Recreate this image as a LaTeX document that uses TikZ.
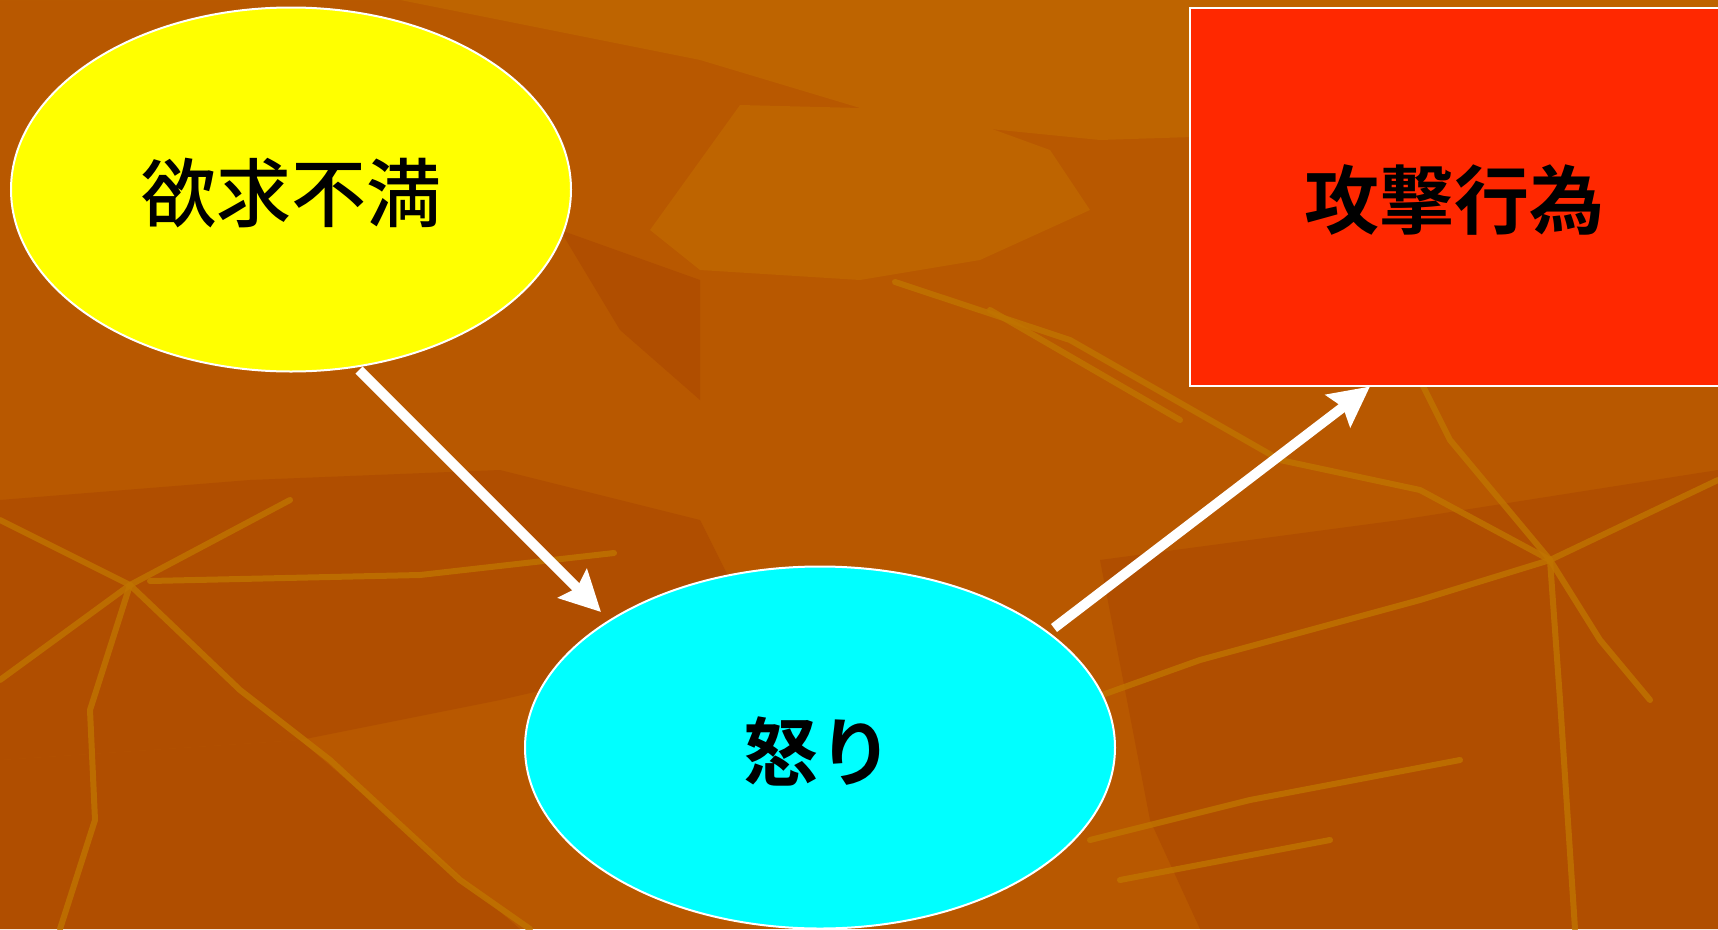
\documentclass[tikz,border=0pt]{standalone}
\usepackage{fontspec}
\newfontfamily\cjkm{Noto Sans CJK JP Medium}
\newfontfamily\cjkb{Noto Sans CJK JP Bold}
\usetikzlibrary{shapes.geometric,arrows.meta}
\definecolor{bgbase}{RGB}{184,88,0}
\definecolor{bglight}{RGB}{190,100,0}
\definecolor{bgdark}{RGB}{176,78,0}
\definecolor{gold}{RGB}{192,116,0}
\definecolor{ylw}{RGB}{255,255,0}
\definecolor{cyn}{RGB}{0,255,255}
\definecolor{rd}{RGB}{255,40,0}
\tikzset{
  oval/.style={ellipse, draw=white, line width=2pt, inner sep=0pt},
  box/.style={rectangle, draw=white, line width=2pt, inner sep=0pt},
  lbl/.style={font=\cjkm\fontsize{75}{85}\selectfont, text=black},
  lblb/.style={font=\cjkb\fontsize{75}{85}\selectfont, text=black},
  arr/.style={draw=white, line width=10pt, -{Stealth[length=40pt,width=40pt,inset=6pt]}},
  streak/.style={draw=gold, line width=6pt, line cap=round, line join=round, opacity=0.8},
}
\begin{document}
\begin{tikzpicture}[x=1pt,y=-1pt]
\useasboundingbox (0,0) rectangle (1718,929);
\begin{scope}
\clip (0,0) rectangle (1718,929);
\fill[bgbase] (0,0) rectangle (1718,929);
% lighter upper areas
\fill[bglight] (0,0) -- (1718,0) -- (1718,120) -- (1100,140) -- (900,120) -- (700,60) -- (400,0) -- cycle;
\fill[bglight] (740,105) -- (940,110) -- (1050,150) -- (1090,210) -- (980,260) -- (860,280) -- (700,270) -- (650,230) -- cycle;
% darker lower areas
\fill[bgdark] (0,500) -- (250,480) -- (500,470) -- (700,520) -- (760,640) -- (500,700) -- (300,740) -- (0,760) -- cycle;
\fill[bgdark] (1100,560) -- (1400,520) -- (1718,470) -- (1718,929) -- (1200,929) -- (1150,820) -- cycle;
\fill[bgdark] (0,760) -- (300,740) -- (520,929) -- (0,929) -- cycle;
\fill[bgdark] (560,230) -- (700,280) -- (700,400) -- (620,330) -- cycle;
% golden streaks
\draw[streak] (150,581) -- (420,575) -- (614,553);
\draw[streak] (0,520) -- (130,585) -- (290,500);
\draw[streak] (130,585) -- (0,680);
\draw[streak] (130,585) -- (240,690) -- (330,760) -- (460,880) -- (530,929);
\draw[streak] (130,585) -- (90,710) -- (95,820) -- (60,929);
\draw[streak] (895,282) -- (1070,340) -- (1280,460) -- (1420,490) -- (1550,560);
\draw[streak] (990,310) -- (1180,420);
\draw[streak] (1550,560) -- (1718,480);
\draw[streak] (1550,560) -- (1420,600) -- (1200,660) -- (1060,710);
\draw[streak] (1550,560) -- (1560,700) -- (1575,929);
\draw[streak] (1550,560) -- (1600,640) -- (1650,700);
\draw[streak] (1420,380) -- (1450,440) -- (1550,560);
\draw[streak] (1090,840) -- (1250,800) -- (1460,760);
\draw[streak] (1120,880) -- (1330,840);
\end{scope}

% nodes
\node[oval, fill=ylw, minimum width=560pt, minimum height=364pt] (want) at (291,189.5) {};
\node[lbl] at (291,193) {欲求不満};
\node[oval, fill=cyn, minimum width=590pt, minimum height=362pt] (anger) at (820,747.5) {};
\node[lblb] at (818,751) {怒り};
\node[box, fill=rd, minimum width=540pt, minimum height=378.5pt] (attack) at (1460,196.8) {};
\node[lblb] at (1454,200) {攻撃行為};

% connector end points on the shapes
\coordinate (a1s) at (359,370);
\coordinate (a1e) at (601,612);
\coordinate (a2s) at (1054,628);
\coordinate (a2e) at (1370,386.5);

\draw[arr] (a1s) -- (a1e);
\draw[arr] (a2s) -- (a2e);
\end{tikzpicture}
\end{document}
